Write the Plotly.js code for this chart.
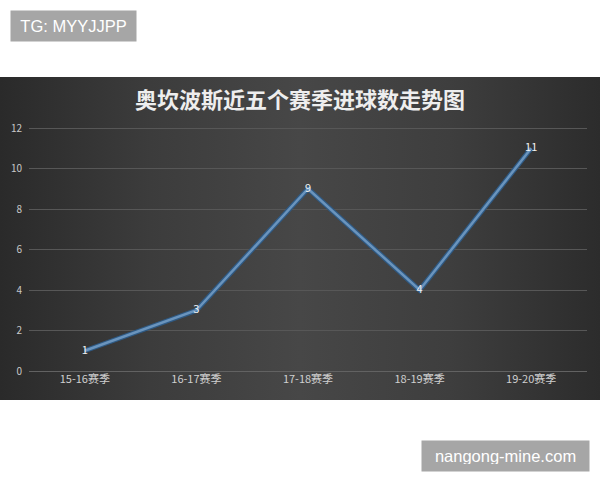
<!DOCTYPE html>
<html>
<head>
<meta charset="utf-8">
<script src="https://cdn.plot.ly/plotly-3.0.1.min.js"></script>
<style>
  body { margin: 0; background: #fff; }
  #wrap { position: relative; width: 600px; height: 480px; }
  #panel {
    position: absolute; left: 0; top: 77px; width: 600px; height: 323px;
    background: linear-gradient(90deg, #2a2a2a 0%, #3c3c3c 25%, #474747 50%, #3e3e3e 75%, #2c2c2c 100%);
  }
  #chart { position: absolute; left: 0; top: 0; width: 600px; height: 480px; }
</style>
</head>
<body>
<div id="wrap">
  <div id="panel"></div>
  <div id="chart"></div>
</div>
<script>
// saisons et buts
const seasons = ['15-16赛季', '16-17赛季', '17-18赛季', '18-19赛季', '19-20赛季'];
const goals   = [1, 3, 9, 4, 11];
const yTicks  = [0, 2, 4, 6, 8, 10, 12];

const CJK = '"Noto Sans CJK SC", "Noto Sans", sans-serif';
const WM  = '"Liberation Sans", Arial, sans-serif';

// bordure sombre + trait clair pour imiter la ligne Excel
const traces = [
  {
    x: seasons, y: goals,
    type: 'scatter', mode: 'lines',
    line: { color: '#2f5a84', width: 5 },
    hoverinfo: 'skip',
  },
  {
    x: seasons, y: goals,
    type: 'scatter', mode: 'lines+text',
    line: { color: '#6a94bd', width: 2.5 },
    text: goals.map(String),
    textposition: 'middle center',
    textfont: { family: CJK, size: 11, color: '#f2f2f2' },
  },
];

const layout = {
  width: 600, height: 480,
  paper_bgcolor: 'rgba(0,0,0,0)',
  plot_bgcolor:  'rgba(0,0,0,0)',
  margin: { l: 29, r: 13, t: 127, b: 109 },
  showlegend: false,
  xaxis: {
    type: 'category',
    range: [-0.5, 4.5],
    showgrid: false, zeroline: false, showline: false,
    ticks: '',
    tickfont: { family: CJK, size: 11, color: '#cfcfcf' },
  },
  yaxis: {
    range: [0, 12.05],
    tickvals: yTicks,
    showgrid: true, gridcolor: '#575757', gridwidth: 1,
    zeroline: true, zerolinecolor: '#626262', zerolinewidth: 1,
    ticks: '',
    ticklabelstandoff: 6,
    tickfont: { family: CJK, size: 10, color: '#c8c8c8' },
  },
  annotations: [
    {
      xref: 'paper', yref: 'paper', x: (300 - 29) / 558, y: (371 - 98) / 244,
      xanchor: 'center', yanchor: 'middle',
      text: '<b>奥坎波斯近五个赛季进球数走势图</b>', showarrow: false,
      font: { family: CJK, size: 22, color: '#eeeeee' },
    },
    {
      xref: 'paper', yref: 'paper', x: (10 - 29) / 558, y: (371 - 10) / 244,
      xanchor: 'left', yanchor: 'top',
      text: 'TG: MYYJJPP', showarrow: false,
      width: 111, height: 16,
      bgcolor: '#a6a6a6', borderpad: 7,
      font: { family: WM, size: 16.5, color: '#ffffff' },
    },
    {
      xref: 'paper', yref: 'paper', x: (590 - 29) / 558, y: (371 - 440) / 244,
      xanchor: 'right', yanchor: 'top',
      text: 'nangong-mine.com', showarrow: false,
      width: 153, height: 16,
      bgcolor: '#a6a6a6', borderpad: 7,
      font: { family: WM, size: 16.5, color: '#ffffff' },
    },
  ],
};

Plotly.newPlot('chart', traces, layout, { displayModeBar: false, staticPlot: true });
</script>
</body>
</html>
